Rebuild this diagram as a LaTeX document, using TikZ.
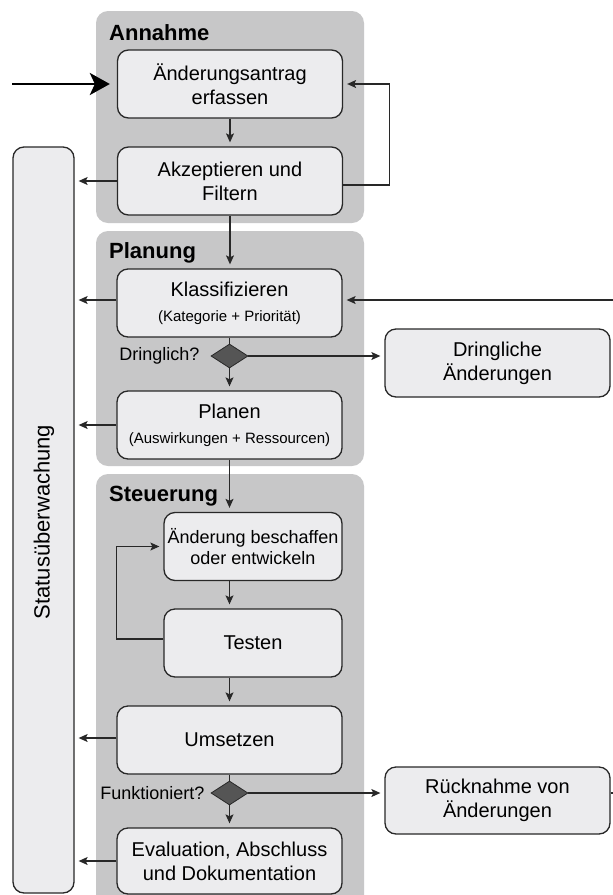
\documentclass[tikz,border=0pt]{standalone}
\usepackage{fontspec}
\setmainfont{Liberation Sans}
\usetikzlibrary{arrows.meta,shapes.geometric,calc}
\definecolor{panelgray}{RGB}{199,199,200}
\definecolor{boxfill}{RGB}{236,236,238}
\definecolor{edgecol}{RGB}{40,40,40}
\definecolor{diafill}{RGB}{85,85,85}
\tikzset{
  panel/.style={fill=panelgray, rounded corners=12pt},
  ptitle/.style={anchor=base west, inner sep=0pt, font=\fontsize{22}{26}\selectfont\bfseries},
  stepbox/.style={draw=edgecol, fill=boxfill, line width=1.3pt, rounded corners=11pt,
    minimum width=225pt, minimum height=68pt, inner sep=0pt, align=center,
    font=\fontsize{20}{24}\selectfont},
  smallbox/.style={stepbox, minimum width=178pt},
  decision/.style={diamond, fill=diafill, draw=edgecol, line width=0.8pt, inner sep=0pt,
    minimum width=37pt, minimum height=24pt, shape aspect=1.55},
  qlabel/.style={anchor=east, inner sep=0pt, font=\fontsize{18}{22}\selectfont},
  arr/.style={-{Stealth[length=9pt,width=8pt,inset=2pt]}, line width=1.1pt, draw=edgecol, shorten >=4pt},
  plainline/.style={line width=1.1pt, draw=edgecol},
  bigarr/.style={-{Stealth[length=20pt,width=22pt,inset=5pt]}, line width=2.6pt, draw=black, shorten >=7pt},
  subt/.style={font=\fontsize{15}{18}\selectfont}
}
\begin{document}
\begin{tikzpicture}[x=1pt,y=-1pt]
\useasboundingbox (0,0) rectangle (613,895);
\clip (0,0) rectangle (613,895);
\fill[white] (0,0) rectangle (613,895);

% panels
\fill[panel] (96,11) rectangle (364,223);
\fill[panel] (96,231) rectangle (364,466);
\fill[panel] (96,474) rectangle (364,915);
\node[ptitle] (tA) at (109,40) {Annahme};
\node[ptitle] (tP) at (109,258) {Planung};
\node[ptitle] (tS) at (109,501) {Steuerung};

% status monitoring
\node[draw=edgecol, fill=boxfill, line width=1.3pt, rounded corners=11pt,
  minimum width=61pt, minimum height=746pt, inner sep=0pt] (stat) at (43.5,520) {};
\node[rotate=90, inner sep=0pt, font=\fontsize{22}{26}\selectfont] (statT) at (44,522) {Statusüberwachung};

% boxes
\node[stepbox] (b1) at (230,84) {Änderungsantrag\\erfassen};
\node[stepbox] (b2) at (230,181) {Akzeptieren und\\Filtern};
\node[stepbox] (b3) at (229.5,303) {Klassifizieren\\[1pt]{\fontsize{15}{18}\selectfont(Kategorie + Priorität)}};
\node[decision] (d1) at (229.5,356) {};
\node[stepbox] (dr) at (497.5,363) {Dringliche\\Änderungen};
\node[stepbox] (b4) at (229.5,425) {Planen\\[1pt]{\fontsize{15}{18}\selectfont(Auswirkungen + Ressourcen)}};
\node[smallbox, font=\fontsize{18}{21}\selectfont] (b5) at (253,546.5) {Änderung beschaffen\\oder entwickeln};
\node[smallbox] (b6) at (253,643) {Testen};
\node[stepbox] (b7) at (229.5,740) {Umsetzen};
\node[decision] (d2) at (229.5,793) {};
\node[stepbox, minimum height=67pt] (rk) at (497.5,800.5) {Rücknahme von\\Änderungen};
\node[stepbox, minimum height=66pt] (b8) at (229.5,861) {Evaluation, Abschluss\\und Dokumentation};

\node[qlabel] (q1) at ([xshift=-11pt]d1.west) {Dringlich?};
\node[qlabel] (q2) at ([xshift=-6pt]d2.west) {Funktioniert?};

% incoming thick arrow
\coordinate (inL) at (12,84);
\draw[bigarr] (inL) -- (b1.west);

% Annahme flow
\draw[arr] (b1.south) -- (b2.north);
\draw[arr] ([yshift=-4pt]b2.east) -- ++(46,0) |- (b1.east);
\draw[arr] (b2.west) -- (b2.west -| stat.east);
\draw[arr] (b2.south) -- (b2.south |- b3.north);

% Planung
\coordinate (rin) at (613,300);
\draw[arr] (rin) -- (rin -| b3.east);
\draw[arr] ([yshift=3pt]b3.west) -- ([yshift=3pt]b3.west -| stat.east);
\draw[plainline] (b3.south) -- (d1.north);
\draw[arr] (d1.east) -- (d1.east -| dr.west);
\draw[arr] (d1.south) -- (b4.north);
\draw[arr] (b4.west) -- (b4.west -| stat.east);
\draw[arr] (b4.south) -- (b4.south |- b5.north);

% Steuerung
\draw[arr] (b4.south |- b5.south) -- (b4.south |- b6.north);
\draw[arr] ([yshift=4pt]b6.west) -- ++(-47,0) |- (b5.west);
\draw[arr] (b4.south |- b6.south) -- (b7.north);
\draw[arr] ([yshift=2pt]b7.west) -- ([yshift=2pt]b7.west -| stat.east);
\draw[plainline] (b7.south) -- (d2.north);
\draw[arr] (d2.east) -- (d2.east -| rk.west);
\draw[arr] (d2.south) -- (b8.north);
\draw[arr] (b8.west) -- (b8.west -| stat.east);
\coordinate (rout) at (613,793);
\draw[plainline] (rk.east |- rout) -- (rout);
\end{tikzpicture}
\end{document}
